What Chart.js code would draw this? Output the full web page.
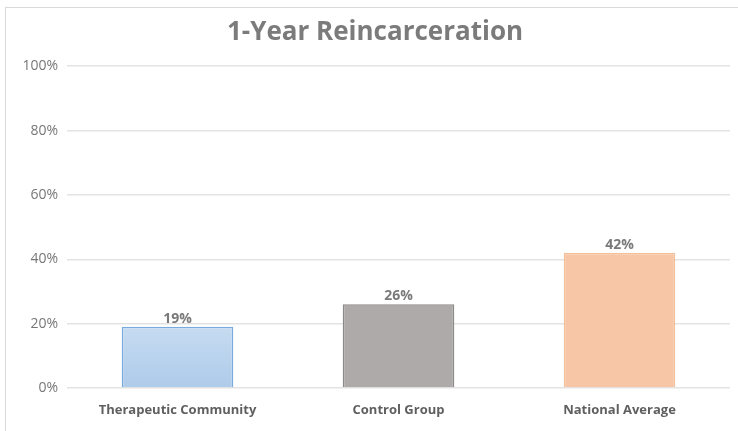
<!DOCTYPE html>
<html>
<head>
<meta charset="utf-8">
<script src="https://cdn.jsdelivr.net/npm/chart.js@4.4.1/dist/chart.umd.min.js"></script>
<style>
  html, body { margin: 0; padding: 0; background: #fff; }
  #wrap { position: relative; width: 738px; height: 431px; }
  #frame { position: absolute; left: 5px; top: 7px; right: -2px; bottom: -2px;
           border-top: 1px solid #d9d9d9; border-left: 1px solid #d9d9d9; }
  canvas { position: absolute; left: 0; top: 0; }
</style>
</head>
<body>
<div id="wrap">
  <div id="frame"></div>
  <canvas id="chart" width="738" height="431"></canvas>
</div>
<script>
const categories = ['Therapeutic Community', 'Control Group', 'National Average'];
const rates = [19, 26, 42];
const yTicks = [0, 20, 40, 60, 80, 100];

const fills = ['#bcd5ee', '#aeaaaa', '#f6c6a6'];
const borders = ['#7aaade', '#8c8989', '#f5c09c'];

const font = "'Open Sans', 'Liberation Sans', sans-serif";

// value labels drawn above each bar
const barLabels = {
    id: 'barLabels',
    afterDatasetsDraw(chart) {
        const ctx = chart.ctx;
        const meta = chart.getDatasetMeta(0);
        ctx.save();
        ctx.font = 'bold 14px ' + font;
        ctx.fillStyle = '#7a7a7a';
        ctx.textAlign = 'center';
        ctx.textBaseline = 'bottom';
        meta.data.forEach((bar, i) => {
            ctx.fillText(rates[i] + '%', bar.x, bar.y - 1);
        });
        ctx.restore();
    }
};

function blueGradient(context) {
    const area = context.chart.chartArea;
    if (!area) return fills[0];
    const g = context.chart.ctx.createLinearGradient(0, context.chart.scales.y.getPixelForValue(rates[0]), 0, area.bottom);
    g.addColorStop(0, '#c6dbf1');
    g.addColorStop(1, '#aecbea');
    return g;
}

const ctx = document.getElementById('chart').getContext('2d');
new Chart(ctx, {
    type: 'bar',
    data: {
        labels: categories,
        datasets: [{
            data: rates,
            backgroundColor: (c) => c.dataIndex === 0 ? blueGradient(c) : fills[c.dataIndex],
            borderColor: borders,
            borderWidth: 1.5,
            categoryPercentage: 1,
            barPercentage: 0.505
        }]
    },
    options: {
        responsive: false,
        animation: false,
        layout: { padding: { left: 20, right: 8, top: 0, bottom: 8 } },
        plugins: {
            legend: { display: false },
            tooltip: { enabled: false },
            title: {
                display: true,
                text: '1-Year Reincarceration',
                color: '#7b7b7b',
                font: { family: font, size: 26, weight: 'bold' },
                padding: { top: 17, bottom: 18 }
            }
        },
        scales: {
            y: {
                min: 0,
                max: 100,
                afterBuildTicks: (s) => { s.ticks = yTicks.map(v => ({ value: v })); },
                afterFit: (s) => { s.width = 47; },
                border: { display: false },
                grid: { color: '#e3e3e3', lineWidth: 1.5, drawTicks: false },
                ticks: {
                    color: '#777777',
                    padding: 9,
                    font: { family: font, size: 14 },
                    callback: (v) => v + '%'
                }
            },
            x: {
                border: { display: false },
                grid: { display: false },
                afterFit: (s) => { s.height = 35; },
                ticks: {
                    color: '#5f5f5f',
                    padding: 6,
                    font: { family: font, size: 13, weight: 'bold' }
                }
            }
        }
    },
    plugins: [barLabels]
});
</script>
</body>
</html>
